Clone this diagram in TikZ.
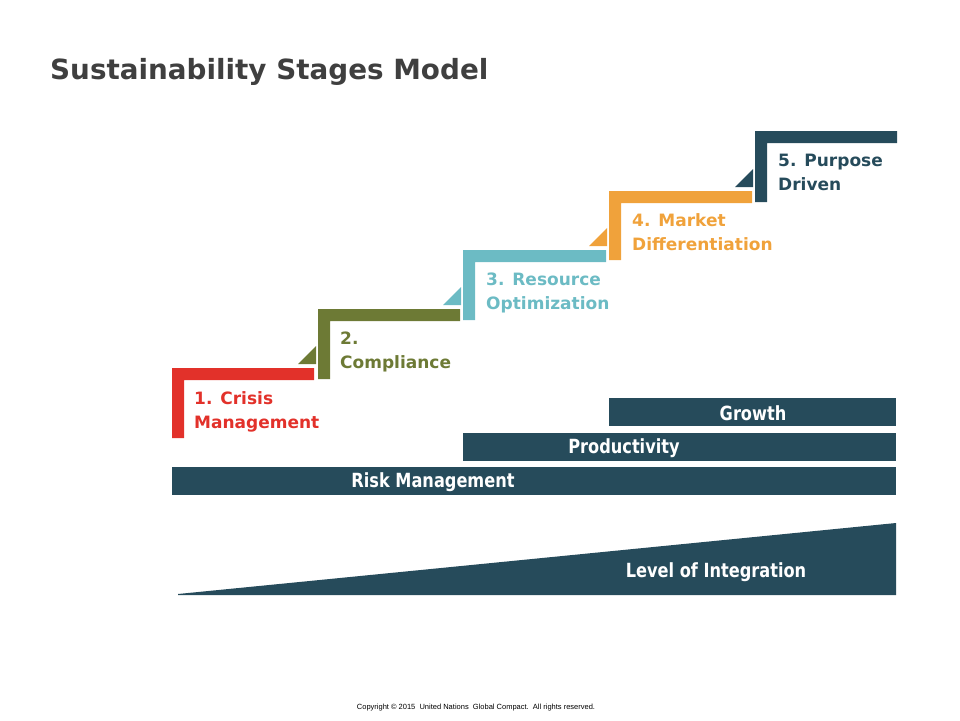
\documentclass[tikz,border=0pt]{standalone}
\usepackage{fontspec}
\setmainfont{DejaVu Sans}
\newfontfamily\barfont[FakeStretch=0.83]{DejaVu Sans}
\newfontfamily\notefont{Liberation Sans}
\usepackage{tikz}
\definecolor{crisis}{HTML}{E2312A}
\definecolor{comply}{HTML}{6D7A35}
\definecolor{resource}{HTML}{6CBBC4}
\definecolor{market}{HTML}{F0A23B}
\definecolor{purpose}{HTML}{264B5B}
\definecolor{titlegray}{HTML}{3F3F3F}

\begin{document}
\begin{tikzpicture}[x=1pt,y=-1pt,
  stagelabel/.style={anchor=north west,inner sep=0,align=left,font=\fontsize{17}{24}\selectfont\bfseries},
  bartext/.style={text=white,inner sep=0,font=\barfont\fontsize{19.5}{22}\selectfont\bfseries}]
 \useasboundingbox (0,0) rectangle (960,720);
 \node[anchor=base west,inner sep=0,text=titlegray,font=\fontsize{27.8}{32}\selectfont\bfseries] (title) at (50,79) {Sustainability Stages Model};
 \fill[crisis] (172,368) -- ++(142,0) -- ++(0,12) -- ++(-130,0) -- ++(0,58) -- ++(-12,0) -- cycle;
 \fill[comply] (318,309) -- ++(142,0) -- ++(0,12) -- ++(-130,0) -- ++(0,58) -- ++(-12,0) -- cycle;
 \fill[comply] (298,364) -- ++(18,0) -- ++(0,-18) -- cycle;
 \fill[resource] (463,250) -- ++(143,0) -- ++(0,12) -- ++(-131,0) -- ++(0,58) -- ++(-12,0) -- cycle;
 \fill[resource] (443,305) -- ++(18,0) -- ++(0,-18) -- cycle;
 \fill[market] (609,191) -- ++(143,0) -- ++(0,12) -- ++(-131,0) -- ++(0,57) -- ++(-12,0) -- cycle;
 \fill[market] (589,246) -- ++(18,0) -- ++(0,-18) -- cycle;
 \fill[purpose] (755,131) -- ++(142,0) -- ++(0,12) -- ++(-130,0) -- ++(0,59) -- ++(-12,0) -- cycle;
 \fill[purpose] (735,187) -- ++(18,0) -- ++(0,-18) -- cycle;
 \node[stagelabel,text=crisis] (stage1) at (194,391) {1. Crisis\\Management};
 \node[stagelabel,text=comply] (stage2) at (340,332) {2.\\Compliance};
 \node[stagelabel,text=resource] (stage3) at (486,273) {3. Resource\\Optimization};
 \node[stagelabel,text=market] (stage4) at (632,213) {4. Market\\Differentiation};
 \node[stagelabel,text=purpose] (stage5) at (778,154) {5. Purpose\\Driven};
 \fill[purpose] (609,398) rectangle (896,426);
 \fill[purpose] (463,433) rectangle (896,461);
 \fill[purpose] (172,467) rectangle (896,495);
 \fill[purpose] (178,594) -- (896,523) -- (896,595) -- (178,595) -- cycle;
 \node[bartext] (growth) at (753,413) {Growth};
 \node[bartext] (productivity) at (624,448) {Productivity};
 \node[bartext] (risk) at (433,482) {Risk Management};
 \node[bartext] (integration) at (716,572) {Level of Integration};
 \node[font=\notefont\fontsize{7.5}{9}\selectfont] (copyright) at (476,708) {Copyright \textcopyright{} 2015\ \ United Nations\ \ Global Compact.\ \ All rights reserved.};
\end{tikzpicture}
\end{document}
